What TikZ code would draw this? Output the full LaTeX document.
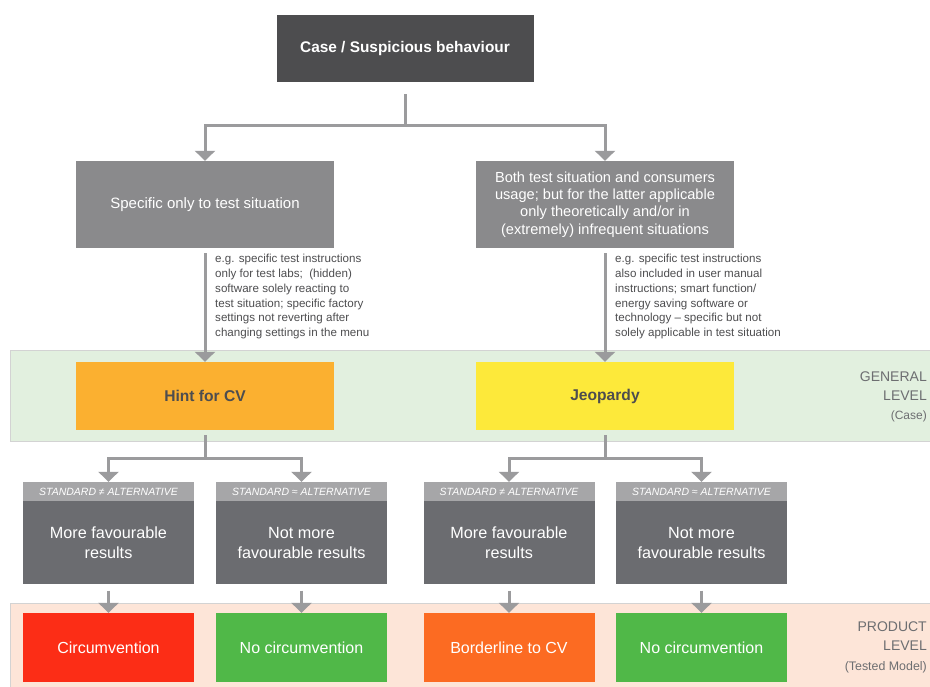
\documentclass[tikz,border=0pt]{standalone}
\usepackage{fontspec}
\setmainfont{Liberation Sans}
\usetikzlibrary{arrows.meta}
\definecolor{cdark}{HTML}{4D4D4F}
\definecolor{cgray}{HTML}{8A8A8C}
\definecolor{chead}{HTML}{A6A6A8}
\definecolor{cbody}{HTML}{6B6C70}
\definecolor{cline}{HTML}{9B9B9D}
\definecolor{cgband}{HTML}{E2F0DF}
\definecolor{coband}{HTML}{FDE5D8}
\definecolor{cbandline}{HTML}{D3D3D3}
\definecolor{chint}{HTML}{FBB030}
\definecolor{cjeo}{HTML}{FDE93A}
\definecolor{cred}{HTML}{FC2D16}
\definecolor{cgreen}{HTML}{50B848}
\definecolor{cborder}{HTML}{FC6B22}
\definecolor{clevel}{HTML}{6D6E71}
\definecolor{cnote}{HTML}{4D4D4F}
\tikzset{
  box/.style={rectangle, inner sep=2pt, align=center, text=white},
  line/.style={draw=cline, line width=3pt},
  arr/.style={line, -{Triangle[width=20pt,length=10pt]}},
  note/.style={anchor=north west, align=left, text=cnote, font=\fontsize{11.6}{14.8}\selectfont, inner sep=0pt},
  level/.style={anchor=north east, align=right, text=clevel, inner sep=0pt},
  hdr/.style={box, fill=chead, minimum width=171pt, minimum height=19pt, font=\fontsize{10.5}{12}\selectfont\itshape},
  body/.style={box, fill=cbody, minimum width=171pt, minimum height=83pt, font=\fontsize{16.2}{19.5}\selectfont},
  res/.style={box, minimum width=171pt, minimum height=69pt, font=\fontsize{16}{18}\selectfont}
}
\begin{document}
\begin{tikzpicture}[x=1pt,y=-1pt]
\useasboundingbox (0,0) rectangle (930,687);
% bands
\fill[cgband, draw=cbandline, line width=1pt] (10,351) rectangle (940,441);
\fill[coband, draw=cbandline, line width=1pt] (10,603) rectangle (940,695);
% top
\node[box, fill=cdark, minimum width=257pt, minimum height=67pt, font=\fontsize{15.4}{18}\selectfont\bfseries] (top) at (405,48.5) {Case / Suspicious behaviour};
\node[box, fill=cgray, minimum width=258pt, minimum height=87pt, font=\fontsize{15}{18}\selectfont] (spec) at (205,204.5) {Specific only to test situation};
\node[box, fill=cgray, minimum width=258pt, minimum height=87pt, font=\fontsize{14.6}{17.3}\selectfont] (both) at (605,204.5) {Both test situation and consumers\\usage; but for the latter applicable\\only theoretically and/or in\\(extremely) infrequent situations};
\coordinate (j0) at (405,126);
\draw[line, shorten <=12pt] (top.south) -- (j0);
\draw[arr] (j0) -| (spec.north);
\draw[arr] (j0) -| (both.north);
% notes
\node[note] (n1) at (215,254) {e.g. specific test instructions\\only for test labs;\ \ (hidden)\\software solely reacting to\\test situation; specific factory\\settings not reverting after\\changing settings in the menu};
\node[note] (n2) at (615,254) {e.g. specific test instructions\\also included in user manual\\instructions; smart function/\\energy saving software or\\technology -- specific but not\\solely applicable in test situation};
% general level
\node[box, fill=chint, text=cdark, minimum width=258pt, minimum height=68pt, font=\fontsize{15.6}{18}\selectfont\bfseries] (hint) at (205,396) {Hint for CV};
\node[box, fill=cjeo, text=cdark, minimum width=258pt, minimum height=68pt, font=\fontsize{15.6}{18}\selectfont\bfseries] (jeo) at (605,396) {Jeopardy};
\draw[arr, shorten <=5pt] (spec.south) -- (hint.north);
\draw[arr, shorten <=5pt] (both.south) -- (jeo.north);
\node[level, font=\fontsize{14}{19}\selectfont] (gl) at (927,372) {GENERAL\\LEVEL};
\node[level, font=\fontsize{12}{14}\selectfont] (glc) at (927,411) {(Case)};
% headers and bodies
\node[hdr] (h1) at (108.5,491.5) {STANDARD ≠ ALTERNATIVE};
\node[hdr] (h2) at (301.5,491.5) {STANDARD ≈ ALTERNATIVE};
\node[hdr] (h3) at (509,491.5) {STANDARD ≠ ALTERNATIVE};
\node[hdr] (h4) at (701.5,491.5) {STANDARD ≈ ALTERNATIVE};
\node[body, anchor=north] (b1) at (h1.south) {More favourable\\results};
\node[body, anchor=north] (b2) at (h2.south) {Not more\\favourable results};
\node[body, anchor=north] (b3) at (h3.south) {More favourable\\results};
\node[body, anchor=north] (b4) at (h4.south) {Not more\\favourable results};
\coordinate (j1) at (205,458);
\coordinate (j2) at (605,458);
\draw[line, shorten <=5pt] (hint.south) -- (j1);
\draw[arr] (j1) -| (h1.north);
\draw[arr] (j1) -| (h2.north);
\draw[line, shorten <=5pt] (jeo.south) -- (j2);
\draw[arr] (j2) -| (h3.north);
\draw[arr] (j2) -| (h4.north);
% results
\node[res, fill=cred] (r1) at (108.5,647.5) {Circumvention};
\node[res, fill=cgreen] (r2) at (301.5,647.5) {No circumvention};
\node[res, fill=cborder] (r3) at (509,647.5) {Borderline to CV};
\node[res, fill=cgreen] (r4) at (701.5,647.5) {No circumvention};
\draw[arr, shorten <=6pt] (b1.south) -- (r1.north);
\draw[arr, shorten <=6pt] (b2.south) -- (r2.north);
\draw[arr, shorten <=6pt] (b3.south) -- (r3.north);
\draw[arr, shorten <=6pt] (b4.south) -- (r4.north);
\node[level, font=\fontsize{14}{19}\selectfont] (pl) at (927,622) {PRODUCT\\LEVEL};
\node[level, font=\fontsize{12.4}{14}\selectfont] (plc) at (927,661) {(Tested Model)};
\end{tikzpicture}
\end{document}
